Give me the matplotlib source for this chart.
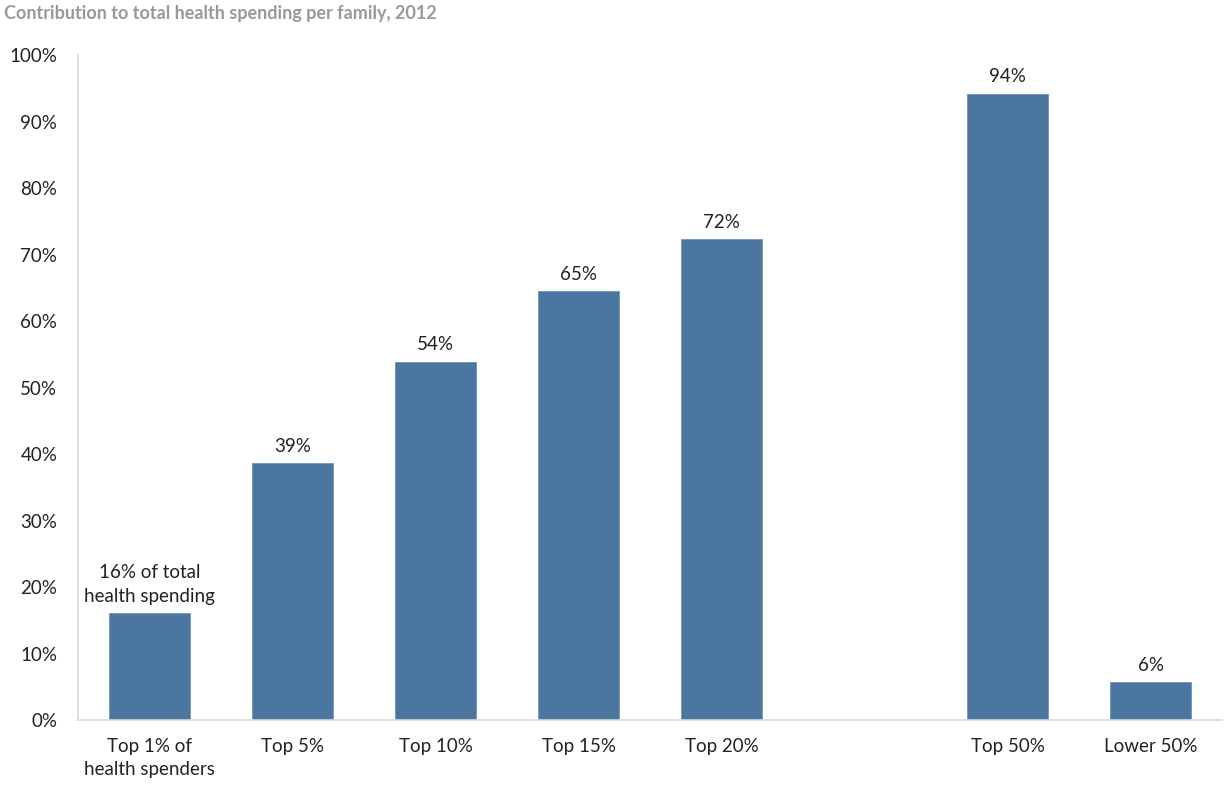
import matplotlib.pyplot as plt
import numpy as np

plt.rcParams['font.family'] = ['Lato', 'DejaVu Sans']

categories = ['Top 1% of\nhealth spenders', 'Top 5%', 'Top 10%', 'Top 15%',
              'Top 20%', '', 'Top 50%', 'Lower 50%']
values = [16.1, 38.6, 53.9, 64.5, 72.3, None, 94.2, 5.7]
labels = ['16% of total\nhealth spending', '39%', '54%', '65%', '72%', '', '94%', '6%']

fig = plt.figure(figsize=(12.25, 7.85), dpi=100)
ax = fig.add_axes([0.0637, 0.0828, 0.934, 0.847])

index = np.arange(len(categories))
for i, v in enumerate(values):
    if v is None:
        continue
    ax.bar(index[i], v, 0.57, color='#4a76a0', edgecolor='#6f95bb', linewidth=0.6)
    ax.annotate(labels[i], (index[i], v), xytext=(0, 6), textcoords='offset points',
                ha='center', va='bottom', fontsize=13.5, color='#222222',
                linespacing=1.45)

ax.set_xlim(-0.5, 7.5)
ax.set_ylim(0, 100)
ax.set_xticks(index)
ax.set_xticklabels(categories, fontsize=13.5, color='#222222', linespacing=1.45)
ax.set_yticks(np.arange(0, 101, 10))
ax.set_yticklabels(['%d%%' % t for t in range(0, 101, 10)], fontsize=13.5, color='#222222')
ax.tick_params(length=0)
ax.tick_params(axis='x', pad=13)
ax.tick_params(axis='y', pad=15)

for s in ['top', 'right']:
    ax.spines[s].set_visible(False)
for s in ['left', 'bottom']:
    ax.spines[s].set_color('#d9d9d9')
    ax.spines[s].set_linewidth(1.2)

fig.text(0.003, 0.983, 'Contribution to total health spending per family, 2012',
         fontsize=13, fontweight='bold', color='#999999', ha='left', va='center')

fig.savefig('out.png', dpi=100)
